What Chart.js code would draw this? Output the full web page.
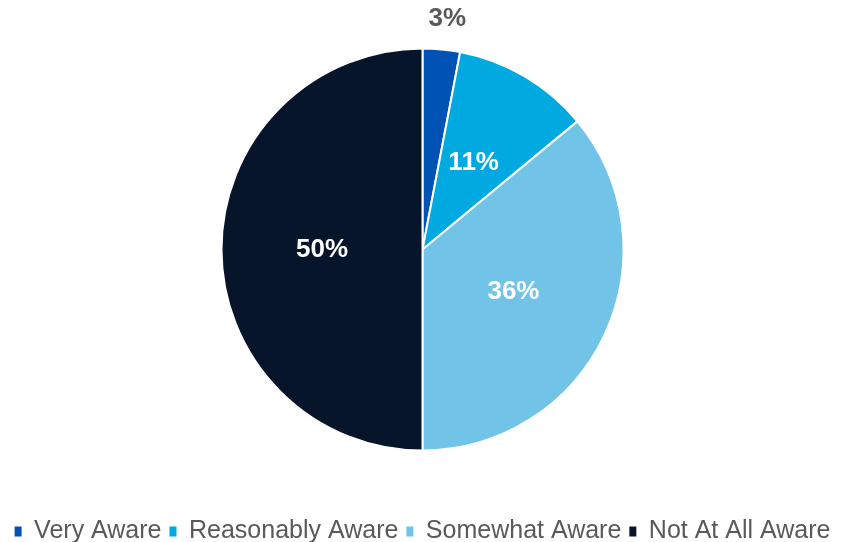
<!DOCTYPE html>
<html>
<head>
<meta charset="utf-8">
<script src="https://cdn.jsdelivr.net/npm/chart.js@4.4.0/dist/chart.umd.min.js"></script>
<style>
  html, body { margin: 0; padding: 0; background: #fff; }
  #wrap { width: 845px; height: 542px; }
</style>
</head>
<body>
<div id="wrap"><canvas id="myChart"></canvas></div>
<script>
const categories = ['Very Aware', 'Reasonably Aware', 'Somewhat Aware', 'Not At All Aware'];
const shares = [3, 11, 36, 50];
const sliceColors = ['#0052b4', '#00a9e0', '#71c4e8', '#061529'];

// percent labels: inside the slice, small ones go outside
const sliceLabels = {
    id: 'sliceLabels',
    afterDatasetsDraw(chart) {
        const ctx = chart.ctx;
        const meta = chart.getDatasetMeta(0);
        ctx.save();
        ctx.font = 'bold 26px "Liberation Sans", Arial, sans-serif';
        ctx.textAlign = 'center';
        ctx.textBaseline = 'middle';
        meta.data.forEach((arc, i) => {
            const value = shares[i];
            const text = value + '%';
            if (value < 5) {
                const p = arc.getProps(['x', 'y', 'startAngle', 'endAngle', 'outerRadius'], true);
                const mid = (p.startAngle + p.endAngle) / 2;
                const r = p.outerRadius + 31;
                ctx.fillStyle = '#595959';
                ctx.fillText(text, p.x + Math.cos(mid) * r + 3, p.y + Math.sin(mid) * r);
            } else {
                const pos = arc.tooltipPosition(true);
                ctx.fillStyle = '#ffffff';
                ctx.fillText(text, pos.x, pos.y);
            }
        });
        ctx.restore();
    }
};

let data = {
    labels: categories,
    datasets: [{
        data: shares,
        backgroundColor: sliceColors,
        borderColor: '#ffffff',
        borderWidth: 2
    }]
};

let config = {
    type: 'pie',
    data: data,
    options: {
        responsive: true,
        maintainAspectRatio: false,
        animation: false,
        radius: 201,
        layout: { padding: { top: 0, bottom: -12, left: 0, right: 0 } },
        plugins: {
            tooltip: { enabled: false },
            legend: {
                position: 'bottom',
                // empty title only used as a spacer above the legend row
                title: { display: true, text: '', font: { size: 5 }, padding: { top: 2, bottom: 4 } },
                labels: {
                    boxWidth: 7,
                    boxHeight: 10,
                    padding: 8,
                    color: '#595959',
                    font: { family: '"Liberation Sans", Arial, sans-serif', size: 25 },
                    generateLabels(chart) {
                        const items = Chart.overrides.pie.plugins.legend.labels.generateLabels(chart);
                        return items.map(item => ({ ...item, lineWidth: 0 }));
                    }
                }
            }
        }
    },
    plugins: [sliceLabels]
};

let myChart = new Chart(document.getElementById('myChart'), config);
</script>
</body>
</html>
